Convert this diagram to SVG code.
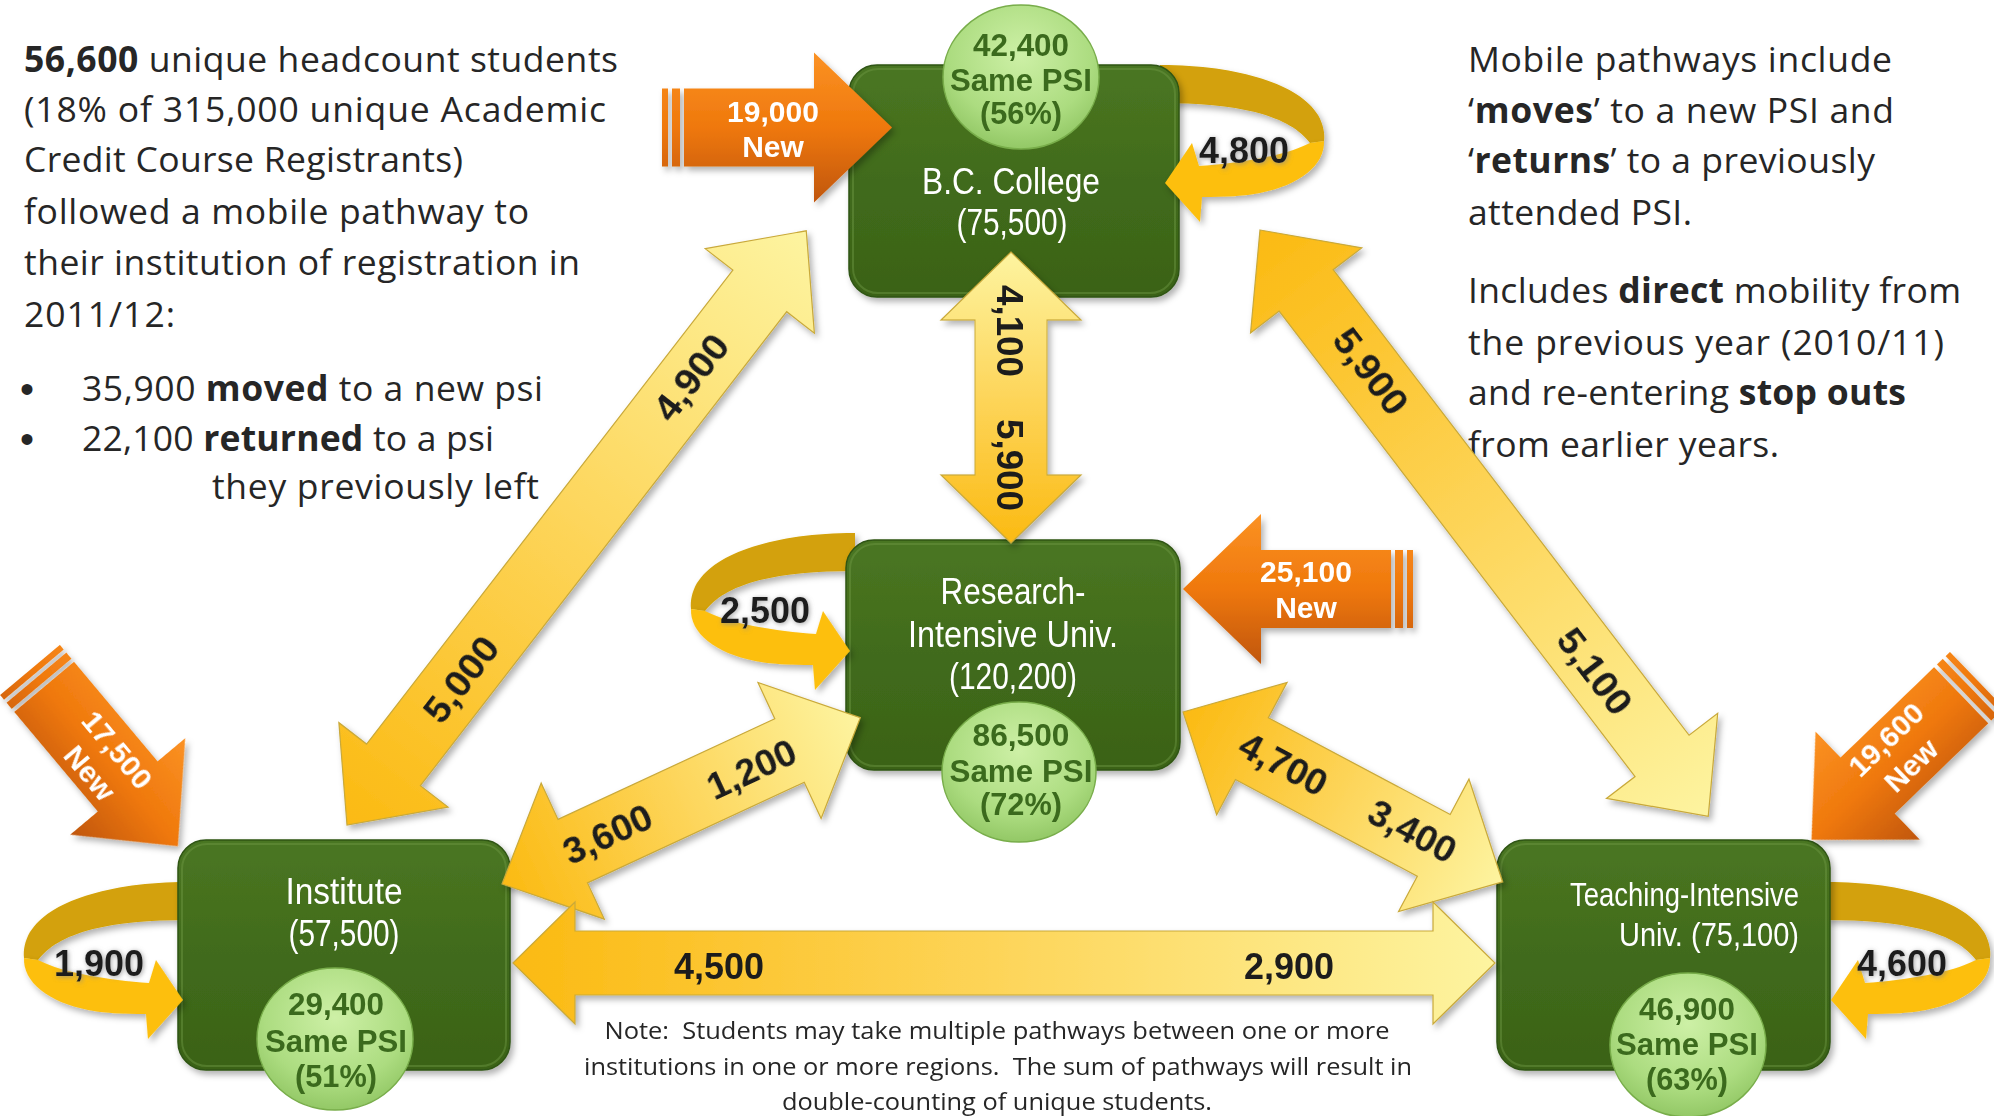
<svg xmlns="http://www.w3.org/2000/svg" xmlns:xlink="http://www.w3.org/1999/xlink" width="1994" height="1116" viewBox="0 0 1994 1116">
<style>
.para{font-family:"Open Sans","Liberation Sans",sans-serif;font-size:35.5px;fill:#262626}
.b{font-weight:bold}
.bul{font-family:"Liberation Sans",Arial,sans-serif;font-size:40px;fill:#262626}
.node{font-family:"Liberation Sans",Arial,sans-serif;font-size:37px;fill:#ffffff;text-anchor:middle}
.circ{font-family:"Liberation Sans",Arial,sans-serif;font-size:31px;font-weight:bold;fill:#3b6a1d;text-anchor:middle}
.new{font-family:"Liberation Sans",Arial,sans-serif;font-size:30px;font-weight:bold;fill:#ffffff;text-anchor:middle}
.lbl{font-family:"Liberation Sans",Arial,sans-serif;font-size:36px;font-weight:bold;fill:#1c1c1c;text-anchor:middle}
.note{font-family:"Open Sans","Liberation Sans",sans-serif;font-size:24px;fill:#262626;text-anchor:middle;white-space:pre}
.box{fill:url(#gBox);stroke:#2f5412;stroke-width:1.5}
.rim{fill:none;stroke:#6f9a45;stroke-opacity:0.45;stroke-width:2}
.circle{fill:url(#gCirc);stroke:#78ad4a;stroke-width:1.5}
.yarrow{fill:url(#gYel);stroke:#c9a93a;stroke-width:1.2}
.dark{fill:#d3a107}
.light{fill:#fdbf0c}
</style>
<defs>
<linearGradient id="gBox" x1="0" y1="0" x2="0" y2="1">
<stop offset="0" stop-color="#4a7622"/><stop offset="0.5" stop-color="#416b1b"/><stop offset="1" stop-color="#3a6217"/>
</linearGradient>
<radialGradient id="gCirc" cx="0.5" cy="0.35" r="0.65">
<stop offset="0" stop-color="#cdf0a6"/><stop offset="0.7" stop-color="#acdc80"/><stop offset="1" stop-color="#93c866"/>
</radialGradient>
<linearGradient id="gYel" x1="0" y1="0" x2="1" y2="0">
<stop offset="0" stop-color="#fbba12"/><stop offset="0.5" stop-color="#fdd55a"/><stop offset="1" stop-color="#fdf4a0"/>
</linearGradient>
<linearGradient id="gOr" gradientUnits="userSpaceOnUse" x1="0" y1="-75" x2="0" y2="75">
<stop offset="0" stop-color="#fb9224"/><stop offset="0.5" stop-color="#ef780c"/><stop offset="1" stop-color="#c0560a"/>
</linearGradient>
<filter id="sh" x="-10%" y="-10%" width="125%" height="125%">
<feDropShadow dx="3" dy="4" stdDeviation="3" flood-color="#000" flood-opacity="0.3"/>
</filter>
<filter id="halo" x="-20%" y="-30%" width="140%" height="160%">
<feDropShadow dx="1" dy="1" stdDeviation="2.5" flood-color="#8a8a8a" flood-opacity="0.8"/>
</filter>
<g id="newArrow">
<rect x="0" y="-39" width="6" height="78" fill="url(#gOr)"/>
<rect x="10" y="-39" width="8" height="78" fill="url(#gOr)"/>
<polygon points="22,-39 152,-39 152,-75 230,0 152,75 152,39 22,39" fill="url(#gOr)"/>
</g>
<path id="loopDark" d="M 1160,65 C 1240,65 1300,85 1318,115 C 1323,124 1325,133 1324,141 L 1310,143 C 1300,130 1285,120 1255,112 C 1230,106 1200,103 1160,103 Z"/>
<path id="loopLight" d="M 1310,143 L 1324,141 C 1325,165 1300,185 1260,193 C 1245,196 1225,197 1202,197 L 1200,222 L 1165,183 L 1192,143 L 1199,166 C 1240,163 1285,156 1310,143 Z"/>
</defs>

<rect width="1994" height="1116" fill="#ffffff"/>

<!-- Left paragraph -->
<g id="text-left">
<text class="para" x="24" y="72" textLength="594"><tspan class="b">56,600</tspan> unique headcount students</text>
<text class="para" x="24" y="122" textLength="582">(18% of 315,000 unique Academic</text>
<text class="para" x="24" y="172" textLength="439">Credit Course Registrants)</text>
<text class="para" x="24" y="224" textLength="505">followed a mobile pathway to</text>
<text class="para" x="24" y="275" textLength="556">their institution of registration in</text>
<text class="para" x="24" y="327" textLength="151">2011/12:</text>
<text class="bul" x="20" y="403">•</text>
<text class="bul" x="20" y="453">•</text>
<text class="para" x="82" y="401" textLength="461">35,900 <tspan class="b">moved</tspan> to a new psi</text>
<text class="para" x="82" y="451" textLength="412">22,100 <tspan class="b">returned</tspan> to a psi</text>
<text class="para" x="212" y="499" textLength="327">they previously left</text>
</g>

<!-- Right paragraph -->
<g id="text-right">
<text class="para" x="1468" y="72" textLength="424">Mobile pathways include</text>
<text class="para" x="1468" y="123" textLength="426">‘<tspan class="b">moves</tspan>’ to a new PSI and</text>
<text class="para" x="1468" y="173" textLength="407">‘<tspan class="b">returns</tspan>’ to a previously</text>
<text class="para" x="1468" y="225" textLength="224">attended PSI.</text>
<text class="para" x="1468" y="303" textLength="493">Includes <tspan class="b">direct</tspan> mobility from</text>
<text class="para" x="1468" y="355" textLength="476">the previous year (2010/11)</text>
<text class="para" x="1468" y="405" textLength="438">and re-entering <tspan class="b">stop outs</tspan></text>
<text class="para" x="1468" y="457" textLength="311">from earlier years.</text>
</g>

<!-- Loop backs (behind nodes) -->
<g id="loops-back" filter="url(#sh)">
<use href="#loopDark" class="dark"/>
<use href="#loopDark" class="dark" transform="translate(666,817)"/>
<use href="#loopDark" class="dark" transform="translate(1348,817) scale(-1,1)"/>
<use href="#loopDark" class="dark" transform="translate(2015,468) scale(-1,1)"/>
</g>

<!-- Nodes -->
<g id="node-bc">
<rect class="box" x="849" y="65" width="330" height="232" rx="28" filter="url(#sh)"/>
<rect class="rim" x="853" y="69" width="322" height="224" rx="25"/>
<ellipse class="circle" cx="1021" cy="77" rx="78" ry="72"/>
<text class="circ" x="1021" y="56" textLength="96" lengthAdjust="spacingAndGlyphs">42,400</text>
<text class="circ" x="1021" y="91" textLength="142" lengthAdjust="spacingAndGlyphs">Same PSI</text>
<text class="circ" x="1021" y="124" textLength="82" lengthAdjust="spacingAndGlyphs">(56%)</text>
<text class="node" x="1011" y="194" textLength="178" lengthAdjust="spacingAndGlyphs">B.C. College</text>
<text class="node" x="1012" y="235" textLength="111" lengthAdjust="spacingAndGlyphs">(75,500)</text>
</g>
<g id="node-research">
<rect class="box" x="846" y="540" width="334" height="230" rx="28" filter="url(#sh)"/>
<rect class="rim" x="850" y="544" width="326" height="222" rx="25"/>
<ellipse class="circle" cx="1019" cy="772" rx="77" ry="70"/>
<text class="circ" x="1021" y="746" textLength="97" lengthAdjust="spacingAndGlyphs">86,500</text>
<text class="circ" x="1021" y="782" textLength="143" lengthAdjust="spacingAndGlyphs">Same PSI</text>
<text class="circ" x="1021" y="815" textLength="82" lengthAdjust="spacingAndGlyphs">(72%)</text>
<text class="node" x="1013" y="604" textLength="145" lengthAdjust="spacingAndGlyphs">Research-</text>
<text class="node" x="1013" y="647" textLength="210" lengthAdjust="spacingAndGlyphs">Intensive Univ.</text>
<text class="node" x="1013" y="689" textLength="128" lengthAdjust="spacingAndGlyphs">(120,200)</text>
</g>
<g id="node-institute">
<rect class="box" x="178" y="840" width="332" height="230" rx="28" filter="url(#sh)"/>
<rect class="rim" x="182" y="844" width="324" height="222" rx="25"/>
<ellipse class="circle" cx="335" cy="1039" rx="78" ry="71"/>
<text class="circ" x="336" y="1015" textLength="96" lengthAdjust="spacingAndGlyphs">29,400</text>
<text class="circ" x="336" y="1052" textLength="142" lengthAdjust="spacingAndGlyphs">Same PSI</text>
<text class="circ" x="336" y="1087" textLength="82" lengthAdjust="spacingAndGlyphs">(51%)</text>
<text class="node" x="344" y="904" textLength="117" lengthAdjust="spacingAndGlyphs">Institute</text>
<text class="node" x="344" y="946" textLength="111" lengthAdjust="spacingAndGlyphs">(57,500)</text>
</g>
<g id="node-teaching">
<rect class="box" x="1497" y="840" width="333" height="230" rx="28" filter="url(#sh)"/>
<rect class="rim" x="1501" y="844" width="325" height="222" rx="25"/>
<ellipse class="circle" cx="1688" cy="1045" rx="78" ry="72"/>
<text class="circ" x="1687" y="1020" textLength="96" lengthAdjust="spacingAndGlyphs">46,900</text>
<text class="circ" x="1687" y="1055" textLength="142" lengthAdjust="spacingAndGlyphs">Same PSI</text>
<text class="circ" x="1687" y="1090" textLength="82" lengthAdjust="spacingAndGlyphs">(63%)</text>
<text class="node" x="1799" y="906" style="font-size:33px;text-anchor:end" textLength="229" lengthAdjust="spacingAndGlyphs">Teaching-Intensive</text>
<text class="node" x="1799" y="946" style="font-size:33px;text-anchor:end" textLength="180" lengthAdjust="spacingAndGlyphs">Univ. (75,100)</text>
</g>

<!-- Connectors -->
<g id="connectors">
<g filter="url(#sh)">
<polygon class="yarrow" transform="translate(347,825) rotate(-52.3)" points="0,0 76,-69 76,-34 675,-34 675,-69 751,0 675,69 675,34 76,34 76,69"/>
<polygon class="yarrow" transform="translate(1260,230) rotate(52.6)" points="0,0 76,-70 76,-34 662,-34 662,-70 738,0 662,70 662,34 76,34 76,70"/>
<polygon class="yarrow" transform="translate(1011,543) rotate(-90)" points="0,0 68,-70 68,-36 223,-36 223,-70 291,0 223,70 223,36 68,36 68,70"/>
<polygon class="yarrow" transform="translate(502,884) rotate(-24.9)" points="0,0 78,-75 78,-35 317,-35 317,-75 395,0 317,75 317,35 78,35 78,75"/>
<polygon class="yarrow" transform="translate(1183,712) rotate(28)" points="0,0 78,-75 78,-35 284,-35 284,-75 362,0 284,75 284,35 78,35 78,75"/>
<polygon class="yarrow" transform="translate(513,963)" points="0,0 62,-61 62,-32 920,-32 920,-61 982,0 920,61 920,32 62,32 62,61"/>
</g>
<text class="lbl" transform="translate(692,378) rotate(-52.3)" y="12" textLength="98" lengthAdjust="spacingAndGlyphs">4,900</text>
<text class="lbl" transform="translate(462,680) rotate(-52.3)" y="12" textLength="98" lengthAdjust="spacingAndGlyphs">5,000</text>
<text class="lbl" transform="translate(1370,372) rotate(52.6)" y="12" textLength="98" lengthAdjust="spacingAndGlyphs">5,900</text>
<text class="lbl" transform="translate(1594,672) rotate(52.6)" y="12" textLength="98" lengthAdjust="spacingAndGlyphs">5,100</text>
<text class="lbl" transform="translate(1009,331) rotate(90)" y="12" textLength="92" lengthAdjust="spacingAndGlyphs">4,100</text>
<text class="lbl" transform="translate(1009,465) rotate(90)" y="12" textLength="92" lengthAdjust="spacingAndGlyphs">5,900</text>
<text class="lbl" transform="translate(608,835) rotate(-24.9)" y="12" textLength="94" lengthAdjust="spacingAndGlyphs">3,600</text>
<text class="lbl" transform="translate(752,770) rotate(-24.9)" y="12" textLength="94" lengthAdjust="spacingAndGlyphs">1,200</text>
<text class="lbl" transform="translate(1283,765) rotate(28)" y="12" textLength="94" lengthAdjust="spacingAndGlyphs">4,700</text>
<text class="lbl" transform="translate(1412,832) rotate(28)" y="12" textLength="94" lengthAdjust="spacingAndGlyphs">3,400</text>
<text class="lbl" x="719" y="979" textLength="90" lengthAdjust="spacingAndGlyphs">4,500</text>
<text class="lbl" x="1289" y="979" textLength="90" lengthAdjust="spacingAndGlyphs">2,900</text>
</g>

<!-- New-student arrows -->
<g id="new-arrows">
<g filter="url(#sh)">
<use href="#newArrow" transform="translate(662,127.5)"/>
<use href="#newArrow" transform="translate(1413,589) scale(-1,1)"/>
<use href="#newArrow" transform="translate(30,670) rotate(50)"/>
<use href="#newArrow" transform="translate(1977,680) rotate(136) scale(1,-1)"/>
</g>
<text class="new" x="773" y="122">19,000</text>
<text class="new" x="773" y="157">New</text>
<text class="new" x="1306" y="582">25,100</text>
<text class="new" x="1306" y="618">New</text>
<g transform="translate(104,761) rotate(50)">
<text class="new" x="0" y="-7">17,500</text>
<text class="new" x="0" y="29">New</text>
</g>
<g transform="translate(1898,752) rotate(-44)">
<text class="new" x="0" y="-7">19,600</text>
<text class="new" x="0" y="29">New</text>
</g>
</g>

<!-- Loop fronts -->
<g id="loops">
<g filter="url(#sh)">
<use href="#loopLight" class="light"/>
<use href="#loopLight" class="light" transform="translate(666,817)"/>
<use href="#loopLight" class="light" transform="translate(1348,817) scale(-1,1)"/>
<use href="#loopLight" class="light" transform="translate(2015,468) scale(-1,1)"/>
</g>
<text class="lbl" x="1244" y="163" filter="url(#halo)" textLength="90" lengthAdjust="spacingAndGlyphs">4,800</text>
<text class="lbl" x="1902" y="976" filter="url(#halo)" textLength="90" lengthAdjust="spacingAndGlyphs">4,600</text>
<text class="lbl" x="99" y="976" filter="url(#halo)" textLength="90" lengthAdjust="spacingAndGlyphs">1,900</text>
<text class="lbl" x="765" y="623" filter="url(#halo)" textLength="90" lengthAdjust="spacingAndGlyphs">2,500</text>
</g>

<!-- Note -->
<g id="note">
<text class="note" x="997" y="1039" textLength="785" lengthAdjust="spacingAndGlyphs">Note:  Students may take multiple pathways between one or more</text>
<text class="note" x="998" y="1075" textLength="828" lengthAdjust="spacingAndGlyphs">institutions in one or more regions.  The sum of pathways will result in</text>
<text class="note" x="997" y="1110" textLength="430" lengthAdjust="spacingAndGlyphs">double-counting of unique students.</text>
</g>
</svg>
